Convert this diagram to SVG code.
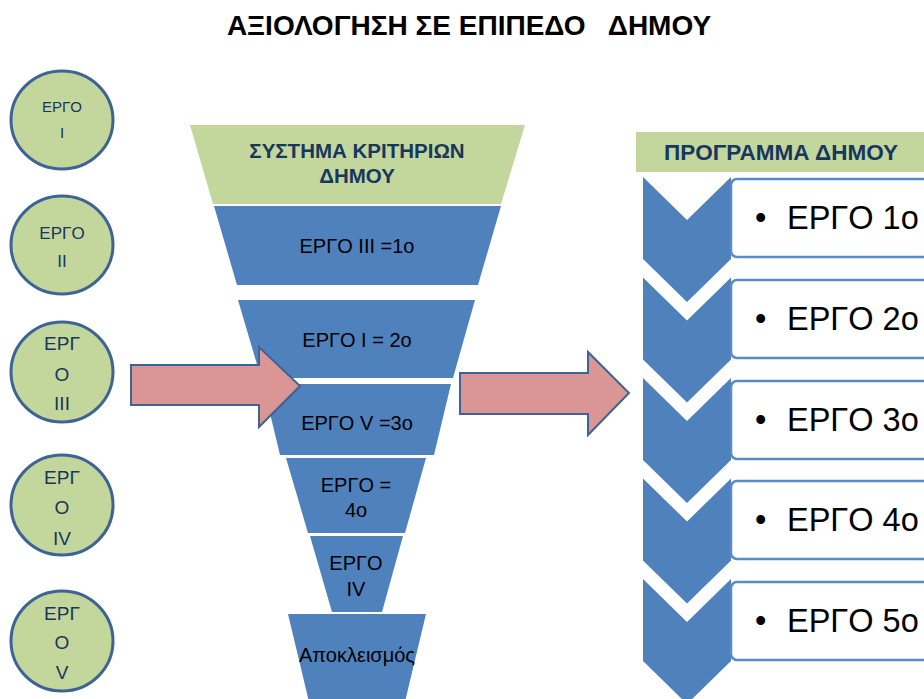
<svg xmlns="http://www.w3.org/2000/svg" width="924" height="699" viewBox="0 0 924 699">
<style>
.title{font-family:"Liberation Sans",Arial,sans-serif;font-weight:bold;font-size:28px;fill:#000;white-space:pre}
.circ{fill:#c3d69b;stroke:#3d6494;stroke-width:3}
.ct{font-family:"Liberation Sans",Arial,sans-serif;fill:#17375e;text-anchor:middle}
.green{fill:#c3d69b}
.blue{fill:#4f81bd}
.hd{font-family:"Liberation Sans",Arial,sans-serif;font-weight:bold;fill:#17375e;text-anchor:middle}
.ft{font-family:"Liberation Sans",Arial,sans-serif;font-size:20px;fill:#000;text-anchor:middle}
.arrow{fill:#d99694;stroke:#3d6494;stroke-width:2}
.box{fill:#fff;stroke:#5b8bc6;stroke-width:2.5}
.bt{font-family:"Liberation Sans",Arial,sans-serif;font-size:32.5px;fill:#000}
</style>
<rect width="924" height="699" fill="#fff"/>
<text class="title" x="469" y="35" text-anchor="middle">ΑΞΙΟΛΟΓΗΣΗ ΣΕ ΕΠΙΠΕΔΟ   ΔΗΜΟΥ</text>

<g id="ergo1">
<ellipse class="circ" cx="62" cy="120" rx="51" ry="49"/>
<text class="ct" font-size="15"><tspan x="62" y="112">ΕΡΓΟ</tspan><tspan x="62" y="138">Ι</tspan></text>
</g>
<g id="ergo2">
<ellipse class="circ" cx="62" cy="245" rx="51" ry="49"/>
<text class="ct" font-size="17"><tspan x="62" y="239">ΕΡΓΟ</tspan><tspan x="62" y="267">ΙΙ</tspan></text>
</g>
<g id="ergo3">
<ellipse class="circ" cx="62" cy="372" rx="51" ry="50"/>
<text class="ct" font-size="19"><tspan x="62" y="350">ΕΡΓ</tspan><tspan x="62" y="381">Ο</tspan><tspan x="62" y="410">ΙΙΙ</tspan></text>
</g>
<g id="ergo4">
<ellipse class="circ" cx="62" cy="505" rx="51" ry="50"/>
<text class="ct" font-size="19"><tspan x="62" y="484">ΕΡΓ</tspan><tspan x="62" y="514">Ο</tspan><tspan x="62" y="545">ΙV</tspan></text>
</g>
<g id="ergo5">
<ellipse class="circ" cx="62" cy="641" rx="51" ry="50"/>
<text class="ct" font-size="19"><tspan x="62" y="620">ΕΡΓ</tspan><tspan x="62" y="649">Ο</tspan><tspan x="62" y="679">V</tspan></text>
</g>

<g id="funnel-header">
<polygon class="green" points="190,125 525,125 501,204 213,204"/>
<text class="hd" font-size="20.5"><tspan x="357" y="158">ΣΥΣΤΗΜΑ ΚΡΙΤΗΡΙΩΝ</tspan><tspan x="357" y="183">ΔΗΜΟΥ</tspan></text>
</g>
<g id="rank1">
<polygon class="blue" points="214,206 501,206 478,285 237,285"/>
<text class="ft" x="357" y="253">ΕΡΓΟ ΙΙΙ =1ο</text>
</g>
<g id="rank2">
<polygon class="blue" points="238,300 475,300 453,378 261,378"/>
<text class="ft" x="357" y="347">ΕΡΓΟ Ι = 2ο</text>
</g>
<g id="rank3">
<polygon class="blue" points="263,384 451,384 434,455 280,455"/>
<text class="ft" x="357" y="430">ΕΡΓΟ V =3ο</text>
</g>
<g id="rank4">
<polygon class="blue" points="286,458 426,458 405,533 308,533"/>
<text class="ft"><tspan x="356" y="492">ΕΡΓΟ =</tspan><tspan x="356" y="517">4ο</tspan></text>
</g>
<g id="rank5">
<polygon class="blue" points="310,536 403,536 382,612 332,612"/>
<text class="ft"><tspan x="356" y="570">ΕΡΓΟ</tspan><tspan x="356" y="596">ΙV</tspan></text>
</g>
<g id="excluded">
<polygon class="blue" points="288,614 426,614 404,706 310,706"/>
<text class="ft" x="357" y="662" font-size="22">Αποκλεισμός</text>
</g>

<g id="connectors">
<polygon class="arrow" points="131,365 259,365 259,347 300,386 259,427 259,405 131,405"/>
<polygon class="arrow" points="460,373 588,373 588,352 629,393 588,435 588,414 460,414"/>
</g>

<g id="program-header">
<rect class="green" x="636" y="132" width="300" height="40"/>
<text class="hd" font-size="22.5" x="781" y="160">ΠΡΟΓΡΑΜΜΑ ΔΗΜΟΥ</text>
</g>
<g id="prog1">
<polygon class="blue" points="643,177 687,220 731,177 731,259 687,302 643,259"/>
<rect class="box" x="731" y="179" width="210" height="78" rx="6"/>
<text class="bt" y="229"><tspan x="755">•</tspan><tspan x="787">ΕΡΓΟ 1ο</tspan></text>
</g>
<g id="prog2">
<polygon class="blue" points="643,277.5 687,320.5 731,277.5 731,359.5 687,402.5 643,359.5"/>
<rect class="box" x="731" y="280" width="210" height="78" rx="6"/>
<text class="bt" y="330"><tspan x="755">•</tspan><tspan x="787">ΕΡΓΟ 2ο</tspan></text>
</g>
<g id="prog3">
<polygon class="blue" points="643,378 687,421 731,378 731,460 687,503 643,460"/>
<rect class="box" x="731" y="381" width="210" height="78" rx="6"/>
<text class="bt" y="431"><tspan x="755">•</tspan><tspan x="787">ΕΡΓΟ 3ο</tspan></text>
</g>
<g id="prog4">
<polygon class="blue" points="643,478.5 687,521.5 731,478.5 731,560.5 687,603.5 643,560.5"/>
<rect class="box" x="731" y="481" width="210" height="78" rx="6"/>
<text class="bt" y="531"><tspan x="755">•</tspan><tspan x="787">ΕΡΓΟ 4ο</tspan></text>
</g>
<g id="prog5">
<polygon class="blue" points="643,579 687,622 731,579 731,661 687,704 643,661"/>
<rect class="box" x="731" y="582" width="210" height="78" rx="6"/>
<text class="bt" y="632"><tspan x="755">•</tspan><tspan x="787">ΕΡΓΟ 5ο</tspan></text>
</g>
</svg>
